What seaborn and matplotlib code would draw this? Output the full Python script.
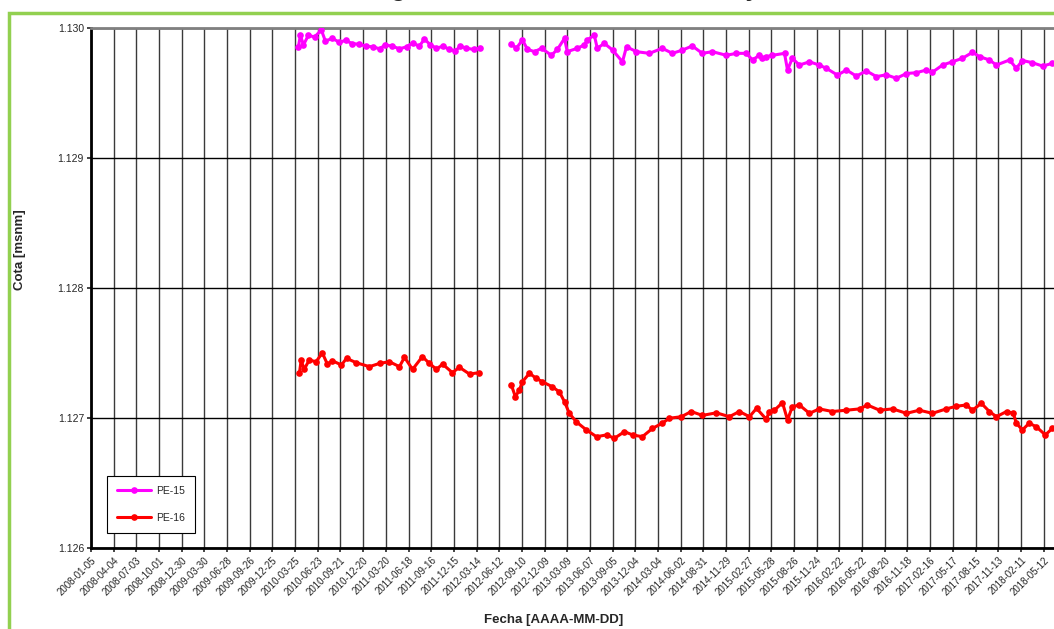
"""Cota de agua piezómetros PE-15 y PE-16."""

import matplotlib.pyplot as plt
import matplotlib.ticker as mticker
import pandas as pd
import seaborn as sns
from matplotlib.patches import Rectangle

# --- datos (cota en msnm) ---
pe15_fechas_1 = [
    "2010-04-07", "2010-04-15", "2010-04-27", "2010-05-17", "2010-06-10", "2010-07-07",
    "2010-07-23", "2010-08-20", "2010-09-17", "2010-10-11", "2010-11-07", "2010-12-05",
    "2011-01-02", "2011-01-29", "2011-02-23", "2011-03-18", "2011-04-15", "2011-05-13",
    "2011-06-10", "2011-07-04", "2011-07-31", "2011-08-20", "2011-09-13", "2011-10-07",
    "2011-11-03", "2011-11-27", "2011-12-21", "2012-01-10", "2012-02-03", "2012-03-02",
    "2012-03-29",
]
pe15_cota_1 = [
    1129.855, 1129.945, 1129.870, 1129.945, 1129.930, 1129.985,
    1129.900, 1129.920, 1129.890, 1129.905, 1129.880, 1129.875,
    1129.860, 1129.855, 1129.840, 1129.870, 1129.860, 1129.840,
    1129.855, 1129.885, 1129.860, 1129.915, 1129.870, 1129.845,
    1129.860, 1129.835, 1129.825, 1129.860, 1129.845, 1129.835,
    1129.845,
]
pe15_fechas_2 = [
    "2012-07-30", "2012-08-19", "2012-09-12", "2012-10-02", "2012-10-30", "2012-11-27",
    "2013-01-05", "2013-01-29", "2013-02-26", "2013-03-09", "2013-04-18", "2013-05-16",
    "2013-05-28", "2013-06-24", "2013-07-06", "2013-08-03", "2013-09-05", "2013-10-14",
    "2013-10-30", "2013-12-08", "2014-01-29", "2014-03-21", "2014-04-30", "2014-06-09",
    "2014-07-18", "2014-08-27", "2014-10-06", "2014-11-30", "2015-01-09", "2015-02-18",
    "2015-03-14", "2015-04-10", "2015-04-22", "2015-05-08", "2015-06-01", "2015-07-19",
    "2015-07-31", "2015-08-19", "2015-09-16", "2015-10-26", "2015-12-04", "2016-01-01",
    "2016-02-14", "2016-03-21", "2016-04-29", "2016-06-08", "2016-07-18", "2016-08-26",
    "2016-10-05", "2016-11-14", "2016-12-23", "2017-02-01", "2017-02-25", "2017-04-06",
    "2017-05-15", "2017-06-24", "2017-08-03", "2017-08-31", "2017-10-09", "2017-11-06",
    "2017-12-28", "2018-01-24", "2018-02-17", "2018-03-29", "2018-05-08", "2018-06-16",
]
pe15_cota_2 = [
    1129.877, 1129.844, 1129.908, 1129.836, 1129.818, 1129.844,
    1129.790, 1129.836, 1129.920, 1129.818, 1129.844, 1129.870,
    1129.908, 1129.946, 1129.844, 1129.882, 1129.830, 1129.740,
    1129.856, 1129.818, 1129.805, 1129.844, 1129.805, 1129.830,
    1129.862, 1129.805, 1129.818, 1129.790, 1129.805, 1129.805,
    1129.754, 1129.790, 1129.767, 1129.780, 1129.790, 1129.805,
    1129.677, 1129.767, 1129.715, 1129.740, 1129.715, 1129.690,
    1129.638, 1129.677, 1129.630, 1129.670, 1129.626, 1129.640,
    1129.613, 1129.650, 1129.656, 1129.677, 1129.660, 1129.715,
    1129.740, 1129.767, 1129.813, 1129.780, 1129.754, 1129.715,
    1129.754, 1129.690, 1129.750, 1129.733, 1129.707, 1129.728,
]
pe16_fechas_1 = [
    "2010-04-11", "2010-04-18", "2010-04-30", "2010-05-20", "2010-06-16", "2010-07-11",
    "2010-07-31", "2010-08-20", "2010-09-25", "2010-10-15", "2010-11-23", "2011-01-14",
    "2011-02-23", "2011-04-03", "2011-05-13", "2011-06-02", "2011-07-04", "2011-08-12",
    "2011-09-09", "2011-10-07", "2011-10-31", "2011-12-09", "2012-01-06", "2012-02-15",
    "2012-03-25",
]
pe16_cota_1 = [
    1127.344, 1127.446, 1127.374, 1127.446, 1127.433, 1127.500,
    1127.415, 1127.440, 1127.408, 1127.459, 1127.425, 1127.395,
    1127.420, 1127.433, 1127.395, 1127.467, 1127.374, 1127.472,
    1127.420, 1127.374, 1127.415, 1127.349, 1127.390, 1127.338,
    1127.349,
]
pe16_fechas_2 = [
    "2012-07-30", "2012-08-15", "2012-08-31", "2012-09-12", "2012-10-10", "2012-11-06",
    "2012-11-30", "2013-01-09", "2013-02-06", "2013-02-26", "2013-03-17", "2013-04-14",
    "2013-05-24", "2013-07-03", "2013-08-12", "2013-09-12", "2013-10-22", "2013-11-23",
    "2014-01-01", "2014-02-10", "2014-03-21", "2014-04-18", "2014-06-05", "2014-07-14",
    "2014-08-27", "2014-10-22", "2014-12-12", "2015-01-21", "2015-03-02", "2015-03-30",
    "2015-05-08", "2015-05-20", "2015-06-09", "2015-07-11", "2015-07-31", "2015-08-19",
    "2015-09-16", "2015-10-26", "2015-12-04", "2016-01-25", "2016-03-21", "2016-05-12",
    "2016-06-12", "2016-07-30", "2016-09-20", "2016-11-14", "2017-01-04", "2017-02-25",
    "2017-04-21", "2017-05-30", "2017-07-09", "2017-08-03", "2017-09-07", "2017-10-09",
    "2017-11-06", "2017-12-16", "2018-01-12", "2018-01-24", "2018-02-17", "2018-03-16",
    "2018-04-13", "2018-05-19", "2018-06-16",
]
pe16_cota_2 = [
    1127.254, 1127.164, 1127.215, 1127.279, 1127.344, 1127.305,
    1127.279, 1127.240, 1127.200, 1127.125, 1127.036, 1126.970,
    1126.908, 1126.856, 1126.870, 1126.844, 1126.895, 1126.870,
    1126.856, 1126.920, 1126.960, 1126.998, 1127.010, 1127.050,
    1127.020, 1127.040, 1127.010, 1127.050, 1127.010, 1127.074,
    1126.990, 1127.050, 1127.060, 1127.118, 1126.985, 1127.087,
    1127.100, 1127.036, 1127.070, 1127.050, 1127.060, 1127.070,
    1127.100, 1127.060, 1127.070, 1127.036, 1127.060, 1127.036,
    1127.070, 1127.090, 1127.100, 1127.060, 1127.113, 1127.050,
    1127.010, 1127.050, 1127.036, 1126.960, 1126.908, 1126.960,
    1126.933, 1126.870, 1126.920,
]

pozos = ["PE-15", "PE-16"]
colores = {"PE-15": "#FF00FF", "PE-16": "#FF0000"}
y_ticks = [1126, 1127, 1128, 1129, 1130]
x_inicio = "2008-01-05"
n_ticks_x = 43
titulo_a = "Cota de Agua Subterránea"
titulo = titulo_a + ", Zona PE-15 y PE-16"


def _tramo(fechas, cotas, pozo, tramo):
    return pd.DataFrame({
        "fecha": pd.to_datetime(fechas),
        "cota": cotas,
        "pozo": pozo,
        "tramo": tramo,
    })


df = pd.concat([
    _tramo(pe15_fechas_1, pe15_cota_1, "PE-15", 1),
    _tramo(pe15_fechas_2, pe15_cota_2, "PE-15", 2),
    _tramo(pe16_fechas_1, pe16_cota_1, "PE-16", 1),
    _tramo(pe16_fechas_2, pe16_cota_2, "PE-16", 2),
], ignore_index=True)

sns.set_style("white")
plt.rcParams["font.family"] = ["Liberation Sans", "DejaVu Sans"]

W, H = 1054, 629
fig = plt.figure(figsize=(W / 100, H / 100), dpi=100)

# marco verde (recortado a derecha y abajo, como en la captura)
fig.patches.append(Rectangle((9 / W, -0.05), 1.2, 1 - 13 / H + 0.05, transform=fig.transFigure,
                             fill=False, edgecolor="#92D050", lw=2.5, zorder=0))

ticks_x = pd.date_range(x_inicio, periods=n_ticks_x + 1, freq="90D")
ax_left, ax_bottom, ax_top = 91 / W, 1 - 548 / H, 1 - 28 / H
ax_width = (n_ticks_x * 22.68) / W
ax = fig.add_axes([ax_left, ax_bottom, ax_width, ax_top - ax_bottom])

sns.lineplot(
    data=df, x="fecha", y="cota", hue="pozo", units="tramo", estimator=None,
    hue_order=pozos, palette=colores, marker="o", markersize=4.8, markeredgewidth=0,
    linewidth=2.2, sort=True, ax=ax, zorder=3,
)

ax.set_xlim(ticks_x[0], ticks_x[-1])
ax.set_ylim(y_ticks[0], y_ticks[-1])
ax.set_xticks(ticks_x[:-1])
ax.set_xticklabels([t.strftime("%Y-%m-%d") for t in ticks_x[:-1]], rotation=45,
                   ha="right", rotation_mode="anchor", fontsize=7)
ax.set_yticks(y_ticks)
ax.yaxis.set_major_formatter(mticker.FuncFormatter(lambda v, _: f"{v / 1000:.3f}"))
ax.tick_params(axis="y", labelsize=7.5, length=3, width=1.2, direction="out", left=True, pad=2)
ax.tick_params(axis="x", length=3, width=1.2, direction="out", bottom=True, pad=2)

ax.grid(True, axis="x", color="#3a3a3a", lw=1.0)
ax.grid(True, axis="y", color="black", lw=1.0)
ax.set_axisbelow(True)
for s in ("left", "bottom"):
    ax.spines[s].set_color("black")
    ax.spines[s].set_linewidth(2.0)
ax.spines["top"].set_color("#808080")
ax.spines["top"].set_linewidth(2.0)
ax.spines["right"].set_visible(False)

ax.set_xlabel("")
ax.set_ylabel("")
fig.text(554 / W, 1 - 620 / H, "Fecha [AAAA-MM-DD]", ha="center", va="center",
         fontsize=9.5, fontweight="bold")
fig.text(20 / W, 1 - 250 / H, "Cota [msnm]", ha="center", va="center", rotation=90,
         fontsize=9.5, fontweight="bold")

# título: sólo asoman los trazos bajo la línea base (coma e "y"), como en la captura
renderer = fig.canvas.get_renderer()
medida = fig.text(0, 0.5, titulo_a, fontsize=18, fontweight="bold")
ancho_a = medida.get_window_extent(renderer).width
medida.remove()
fig.text((588 - ancho_a) / W, 1 + 4 / H, titulo, ha="left", va="baseline", fontsize=18,
         fontweight="bold")

handles, labels = ax.get_legend_handles_labels()
leg = ax.legend(handles, labels, loc="lower left", bbox_to_anchor=(16 / 975, 15 / 520),
                borderaxespad=0, fontsize=7.5, frameon=True, fancybox=False, framealpha=1,
                edgecolor="black", handlelength=3.2, handletextpad=0.5, labelspacing=1.6,
                borderpad=1.0)
leg.get_frame().set_linewidth(0.8)

fig.savefig("out.png", dpi=100)
